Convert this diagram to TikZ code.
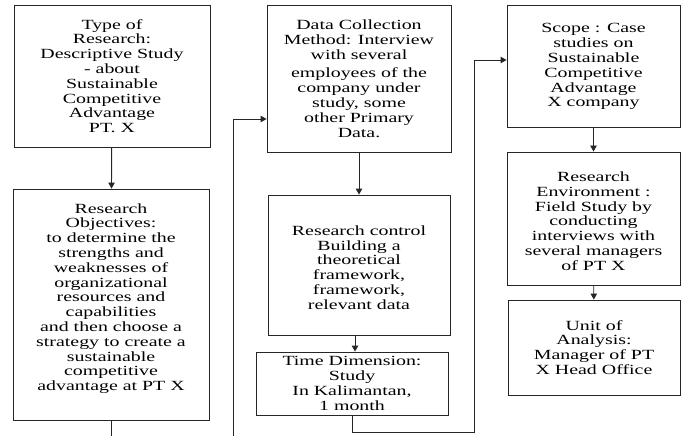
\documentclass[tikz,border=0pt]{standalone}
\usepackage{fontspec}
\setmainfont{Liberation Serif}[FakeStretch=1.42]
\usetikzlibrary{arrows.meta}

\begin{document}
\begin{tikzpicture}[x=1pt,y=-1pt,
		stepbox/.style={draw=black!85,line width=0.9pt,align=center,inner sep=2pt,
			font=\fontsize{14}{14.8}\selectfont},
		arr/.style={draw=black!85,line width=0.9pt,-{Triangle[length=6pt,width=6.5pt]}},
		plain/.style={draw=black!85,line width=0.9pt}]
		\useasboundingbox (0,0) rectangle (681,436);
		% left column
		\node[stepbox,minimum width=196pt,minimum height=142pt] (typeres) at (112,76)
			{Type of\\Research:\\Descriptive Study\\- about\\Sustainable\\Competitive\\Advantage\\PT. X};
		\node[stepbox,minimum width=196pt,minimum height=231pt] (objective) at (111,304.5)
			{Research\\Objectives:\\to determine the\\strengths and\\weaknesses of\\organizational\\resources and\\capabilities\\and then choose a\\strategy to create a\\sustainable\\competitive\\advantage at PT X\\\mbox{}};
		% middle column
		\node[stepbox,minimum width=184pt,minimum height=147pt] (datacoll) at (359,78.5)
			{Data Collection\\Method: Interview\\with several\\[4pt]employees of the\\company under\\study, some\\other Primary\\Data.};
		\node[stepbox,minimum width=182pt,minimum height=140pt] (control) at (359,265)
			{\mbox{}\\Research control\\Building a\\theoretical\\framework,\\framework,\\relevant data};
		\node[stepbox,minimum width=192pt,minimum height=63pt] (timedim) at (352,383.5)
			{Time Dimension:\\Study\\In Kalimantan,\\1 month};
		% right column
		\node[stepbox,minimum width=173pt,minimum height=122pt] (scope) at (593.5,66)
			{\mbox{}\\[-4pt]Scope : Case\\studies on\\Sustainable\\Competitive\\Advantage\\X company};
		\node[stepbox,minimum width=173pt,minimum height=133pt] (environ) at (593.5,218.5)
			{\mbox{}\\Research\\Environment :\\Field Study by\\conducting\\interviews with\\several managers\\of PT X};
		\node[stepbox,minimum width=172pt,minimum height=95pt] (unit) at (594,347.5)
			{Unit of\\Analysis:\\Manager of PT\\X Head Office};

		% free ends and bends
		\coordinate (objfoot) at (111,436);
		\coordinate (leftfoot) at (233,436);
		\coordinate (leftbend) at (233,119);
		\coordinate (lowrun) at (474,432);
		\coordinate (rightbend) at (474,60);

		\draw[arr] (typeres) -- (objective);
		\draw[plain] (objective.south) -- (objective.south |- objfoot);
		\draw[arr] (leftfoot) -- (leftbend) -- (leftbend -| datacoll.west);
		\draw[arr] (datacoll) -- (control);
		\draw[arr] (control.south -| timedim.north) ++(3,0) -- ([xshift=3pt]timedim.north);
		\draw[arr] (timedim.south) |- (lowrun) -- (rightbend) -- (rightbend -| scope.west);
		\draw[arr] (scope) -- (environ);
		\draw[arr] (environ) -- (unit);
	\end{tikzpicture}
\end{document}
